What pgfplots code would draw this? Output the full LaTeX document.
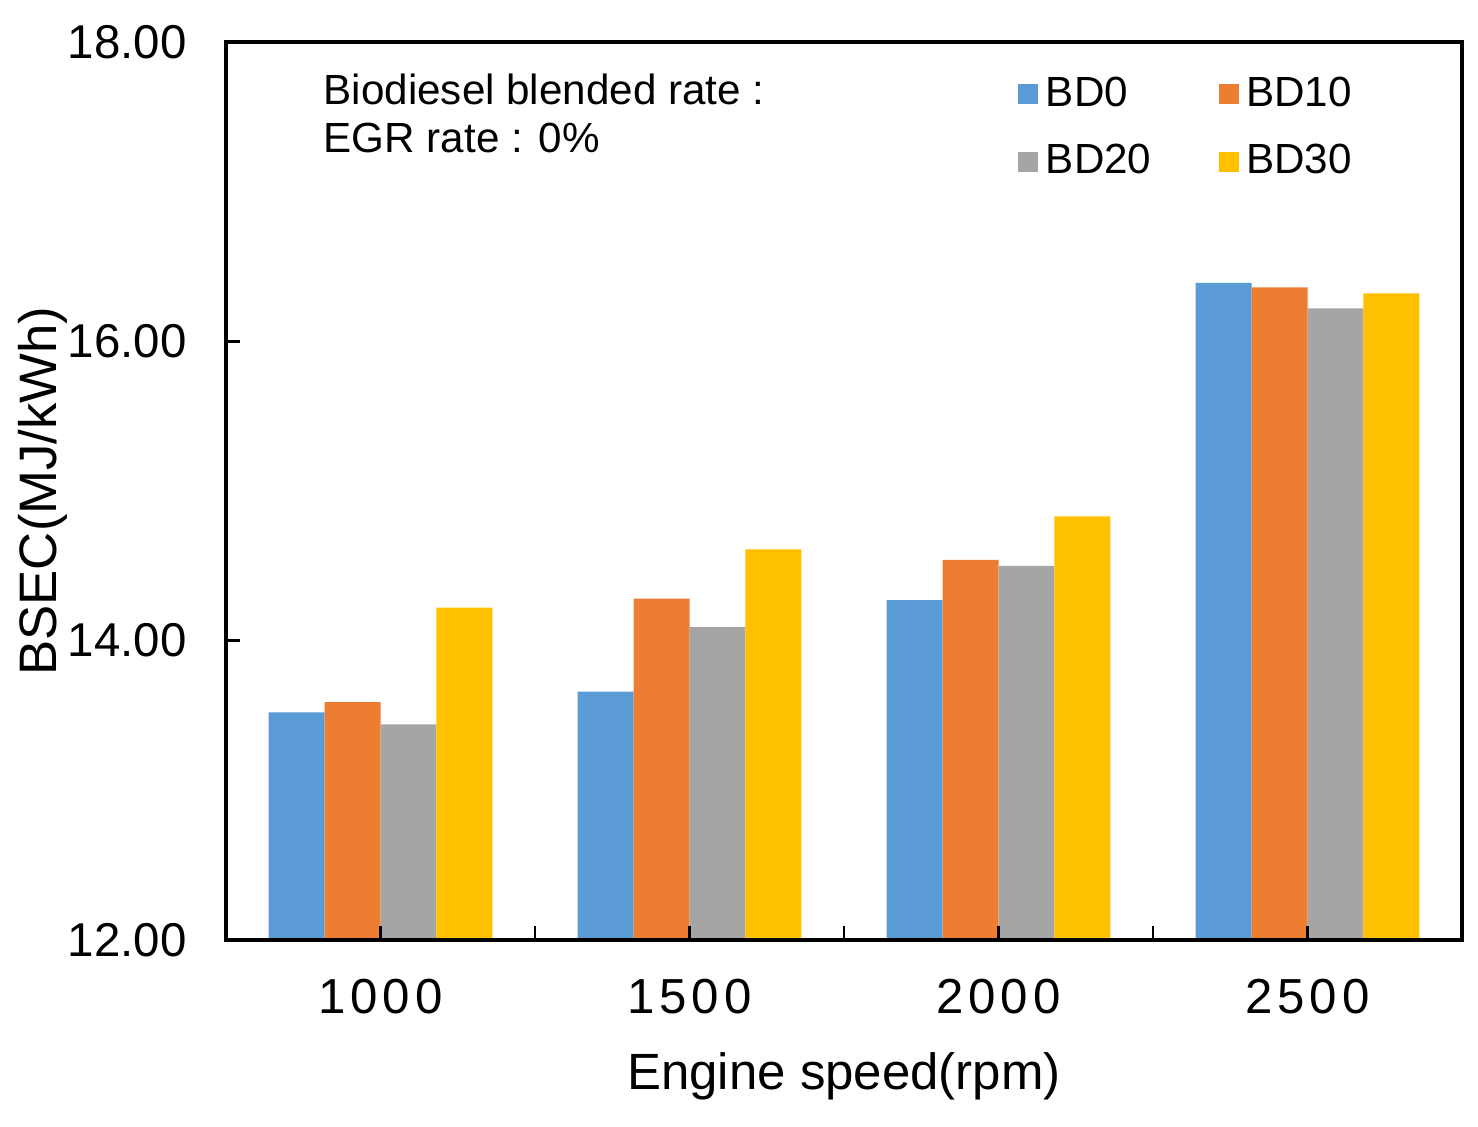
\documentclass[border=0pt]{standalone}
\usepackage{fontspec}
\setmainfont{Liberation Sans}
\newfontfamily\spaced[LetterSpace=10]{Liberation Sans}
\usepackage{pgfplots}
\pgfplotsset{compat=1.18}
\definecolor{bdblue}{RGB}{91,155,213}
\definecolor{bdorange}{RGB}{237,125,49}
\definecolor{bdgray}{RGB}{165,165,165}
\definecolor{bdyellow}{RGB}{255,192,0}

\begin{document}
\begin{tikzpicture}
\begin{axis}[
    name=ax,
    scale only axis,
    width=123.6mm, height=89.8mm,
    ybar=0pt, bar width=0.181,
    xmin=-0.5, xmax=3.5,
    ymin=12, ymax=18,
    xtick={0,1,2,3},
    xticklabels={1000,1500,2000,2500},
    minor xtick={0.5,1.5,2.5},
    ytick={12,14,16,18},
    tick align=inside,
    xtick pos=bottom, ytick pos=left,
    major tick length=1.4mm, minor tick length=1.4mm,
    tick style={line width=0.8pt, black},
    axis line style={line width=1.1pt},
    axis on top,
    /pgf/number format/assume math mode=true,
    yticklabel style={font=\fontsize{13.5}{16}\selectfont, xshift=-2.7mm,
        /pgf/number format/fixed, /pgf/number format/fixed zerofill,
        /pgf/number format/precision=2},
    xticklabel style={font=\fontsize{14}{17}\selectfont\spaced, yshift=-2.7mm},
    xlabel={Engine speed(rpm)},
    xlabel style={at={(axis description cs:0.5,0)}, anchor=base, yshift=-15mm,
        font=\fontsize{14.5}{17}\selectfont},
    ylabel={BSEC(MJ/kWh)},
    ylabel style={at={([xshift=-16.9mm]axis description cs:0,0.5)}, anchor=base,
        font=\fontsize{15}{18}\selectfont},
    legend columns=2,
    legend cell align=left,
    legend style={draw=none, fill=none, at={(rel axis cs:0.632,0.974)},
        anchor=north west, font=\fontsize{12}{14}\selectfont,
        nodes={inner sep=0.35mm},
        /tikz/every odd column/.append style={column sep=0.4mm},
        /tikz/every even column/.append style={column sep=6.4mm},
        row sep=2.6mm},
    legend image code/.code={\fill[#1] (0mm,-1mm) rectangle (2mm,1mm);},
]
\addplot[fill=bdblue, draw=none] coordinates {(0,13.52) (1,13.66) (2,14.27) (3,16.39)};
\addplot[fill=bdorange, draw=none] coordinates {(0,13.59) (1,14.28) (2,14.54) (3,16.36)};
\addplot[fill=bdgray, draw=none] coordinates {(0,13.44) (1,14.09) (2,14.50) (3,16.22)};
\addplot[fill=bdyellow, draw=none] coordinates {(0,14.22) (1,14.61) (2,14.83) (3,16.32)};
\legend{BD0,BD10,BD20,BD30}
\node[anchor=base west, inner sep=0pt, font=\fontsize{12}{14}\selectfont] at (rel axis cs:0.0785,0.930) {Biodiesel blended rate :};
\node[anchor=base west, inner sep=0pt, font=\fontsize{12}{14}\selectfont] at (rel axis cs:0.0785,0.877) {EGR rate : 0\%};
\end{axis}
\path ([shift={(-22.6mm,-18.7mm)}]ax.south west) rectangle ([shift={(1.6mm,4.2mm)}]ax.north east);
\end{tikzpicture}
\end{document}
